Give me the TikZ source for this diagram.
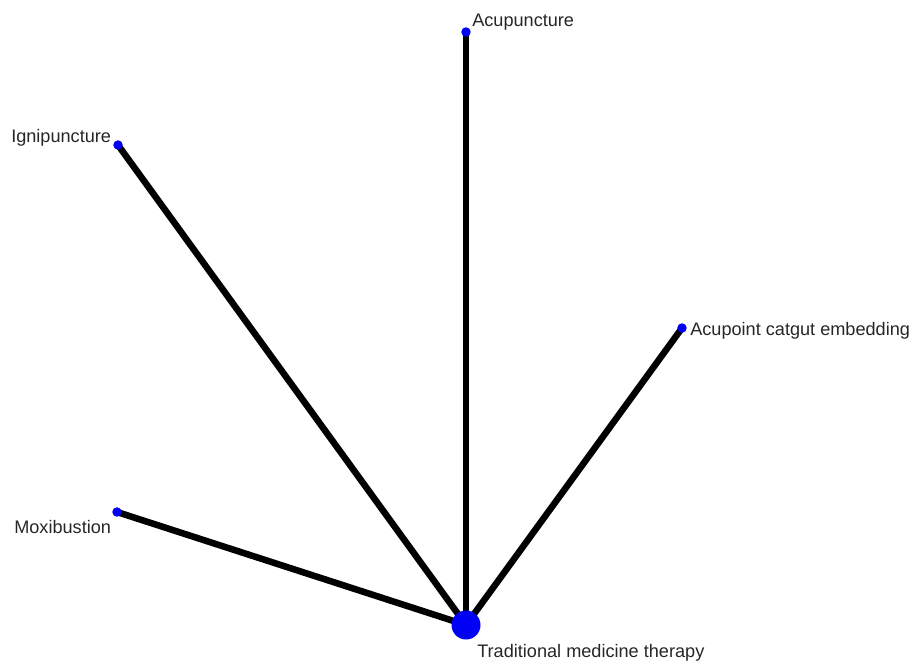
\documentclass[tikz,border=0pt]{standalone}
\usepackage{fontspec}
\setmainfont{Liberation Sans}
\usetikzlibrary{backgrounds}
\definecolor{nodeblue}{RGB}{0,0,245}
\begin{document}
\begin{tikzpicture}[x=0.75pt,y=-0.75pt,
  leaf/.style={circle,fill=nodeblue,inner sep=0pt,minimum size=7.1pt},
  hubdot/.style={circle,fill=nodeblue,inner sep=0pt,minimum size=21.75pt},
  lbl/.style={anchor=base west,inner sep=0pt,font=\fontsize{13.6}{16}\selectfont,text=black!85},
  edge/.style={line width=4.9pt,black}]
\useasboundingbox (0,0) rectangle (912,661);
% network nodes
\node[hubdot] (tmt) at (466,625) {};
\node[leaf] (acu) at (466,32) {};
\node[leaf] (ign) at (118,145) {};
\node[leaf] (ace) at (682,328) {};
\node[leaf] (mox) at (117,512) {};
% labels
\node[lbl] (tmtl) at (477,657) {Traditional medicine therapy};
\node[lbl] (acul) at (472,26) {Acupuncture};
\node[lbl] (ignl) at (11,142) {Ignipuncture};
\node[lbl] (acel) at (690,335) {Acupoint catgut embedding};
\node[lbl] (moxl) at (14,533) {Moxibustion};
% edges behind the dots
\begin{scope}[on background layer]
\draw[edge] (tmt.center) -- (acu.center);
\draw[edge] (tmt.center) -- (ign.center);
\draw[edge] (tmt.center) -- (ace.center);
\draw[edge] (tmt.center) -- (mox.center);
\end{scope}
\end{tikzpicture}
\end{document}
